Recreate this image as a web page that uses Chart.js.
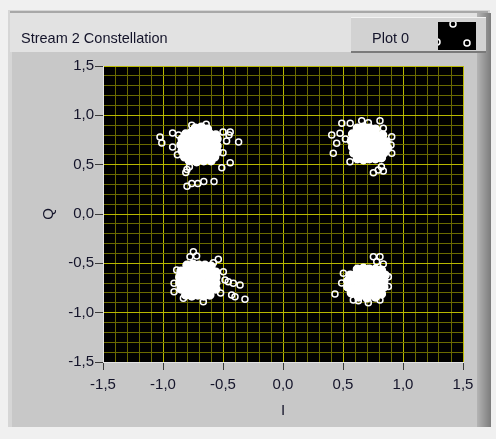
<!DOCTYPE html>
<html>
<head>
<meta charset="utf-8">
<script src="https://cdn.jsdelivr.net/npm/chart.js@4/dist/chart.umd.min.js"></script>
<style>
  html, body { margin: 0; padding: 0; background: #f0f0f0; }
  #wrap { width: 496px; height: 439px; }
</style>
</head>
<body>
<div id="wrap"><canvas id="constellation" width="496" height="439"></canvas></div>
<script>
// Stream 2 constellation, I/Q samples
const chartTitle = 'Stream 2 Constellation';
const plotName = 'Plot 0';
const axisTicks = [-1.5, -1.0, -0.5, 0.0, 0.5, 1.0, 1.5];

// dense centre of each symbol cloud (circles overlap into solid white)
const coreTopLeft = [
    [-0.73, 0.87], [-0.68, 0.88], [-0.63, 0.86],
    [-0.81, 0.81], [-0.76, 0.83], [-0.71, 0.82], [-0.66, 0.82], [-0.61, 0.81], [-0.56, 0.80],
    [-0.84, 0.76], [-0.79, 0.77], [-0.74, 0.76], [-0.69, 0.77], [-0.64, 0.76], [-0.59, 0.75], [-0.55, 0.76],
    [-0.85, 0.70], [-0.80, 0.71], [-0.75, 0.70], [-0.70, 0.71], [-0.65, 0.70], [-0.60, 0.70], [-0.55, 0.69],
    [-0.84, 0.64], [-0.79, 0.65], [-0.74, 0.64], [-0.69, 0.64], [-0.64, 0.65], [-0.59, 0.64], [-0.55, 0.63],
    [-0.82, 0.58], [-0.77, 0.59], [-0.72, 0.58], [-0.67, 0.58], [-0.62, 0.59], [-0.57, 0.58],
    [-0.78, 0.54], [-0.72, 0.53], [-0.66, 0.54], [-0.60, 0.54]
];
const coreTopRight = [
    [0.62, 0.87], [0.67, 0.88], [0.72, 0.87], [0.77, 0.86],
    [0.58, 0.81], [0.63, 0.82], [0.68, 0.80], [0.73, 0.81], [0.78, 0.80], [0.83, 0.80],
    [0.57, 0.74], [0.62, 0.75], [0.67, 0.74], [0.72, 0.74], [0.77, 0.75], [0.82, 0.74], [0.86, 0.73],
    [0.58, 0.68], [0.63, 0.69], [0.68, 0.68], [0.73, 0.68], [0.78, 0.69], [0.83, 0.68], [0.87, 0.67],
    [0.59, 0.62], [0.64, 0.63], [0.69, 0.62], [0.74, 0.62], [0.79, 0.63], [0.84, 0.62],
    [0.62, 0.56], [0.67, 0.55], [0.72, 0.56], [0.77, 0.56], [0.82, 0.57]
];
const coreBottomLeft = [
    [-0.80, -0.52], [-0.75, -0.51], [-0.70, -0.52], [-0.65, -0.52], [-0.60, -0.53],
    [-0.85, -0.58], [-0.80, -0.57], [-0.75, -0.58], [-0.70, -0.57], [-0.65, -0.58], [-0.60, -0.58], [-0.56, -0.59],
    [-0.86, -0.64], [-0.81, -0.63], [-0.76, -0.64], [-0.71, -0.64], [-0.66, -0.63], [-0.61, -0.64], [-0.56, -0.64],
    [-0.86, -0.70], [-0.81, -0.71], [-0.76, -0.70], [-0.71, -0.70], [-0.66, -0.71], [-0.61, -0.70], [-0.56, -0.70],
    [-0.85, -0.76], [-0.80, -0.76], [-0.75, -0.77], [-0.70, -0.76], [-0.65, -0.76], [-0.60, -0.77], [-0.56, -0.76],
    [-0.81, -0.82], [-0.76, -0.83], [-0.71, -0.82], [-0.66, -0.83], [-0.61, -0.82]
];
const coreBottomRight = [
    [0.62, -0.56], [0.67, -0.55], [0.72, -0.56], [0.77, -0.56], [0.82, -0.57],
    [0.56, -0.62], [0.61, -0.61], [0.66, -0.62], [0.71, -0.62], [0.76, -0.61], [0.81, -0.62], [0.85, -0.62],
    [0.54, -0.68], [0.59, -0.67], [0.64, -0.68], [0.69, -0.68], [0.74, -0.67], [0.79, -0.68], [0.84, -0.68],
    [0.54, -0.74], [0.59, -0.75], [0.64, -0.74], [0.69, -0.74], [0.74, -0.75], [0.79, -0.74], [0.84, -0.74],
    [0.57, -0.80], [0.62, -0.80], [0.67, -0.81], [0.72, -0.80], [0.77, -0.80], [0.82, -0.81],
    [0.63, -0.84], [0.70, -0.85], [0.77, -0.84]
];

// scattered samples around the clouds (single hollow circles)
const edgeTopLeft = [
    [-1.025, 0.78], [-1.01, 0.72], [-0.92, 0.82], [-0.92, 0.68], [-0.87, 0.80], [-0.88, 0.60],
    [-0.76, 0.90], [-0.64, 0.91], [-0.50, 0.83], [-0.45, 0.80], [-0.44, 0.83], [-0.47, 0.74],
    [-0.37, 0.73], [-0.51, 0.47], [-0.44, 0.52], [-0.50, 0.62],
    [-0.80, 0.28], [-0.76, 0.31], [-0.71, 0.31], [-0.66, 0.33], [-0.575, 0.33],
    [-0.81, 0.42], [-0.80, 0.45], [-0.78, 0.48]
];
const edgeTopRight = [
    [0.49, 0.92], [0.56, 0.92], [0.656, 0.946], [0.711, 0.926], [0.808, 0.946], [0.836, 0.87],
    [0.406, 0.80], [0.447, 0.717], [0.419, 0.615], [0.475, 0.818], [0.52, 0.76],
    [0.906, 0.784], [0.90, 0.70], [0.906, 0.615],
    [0.753, 0.419], [0.794, 0.446], [0.836, 0.436], [0.82, 0.48], [0.558, 0.53]
];
const edgeBottomLeft = [
    [-0.747, -0.382], [-0.775, -0.433], [-0.72, -0.426], [-0.539, -0.459], [-0.58, -0.493],
    [-0.497, -0.585], [-0.483, -0.669], [-0.456, -0.686], [-0.414, -0.702], [-0.358, -0.72],
    [-0.428, -0.821], [-0.40, -0.838], [-0.317, -0.865], [-0.52, -0.80],
    [-0.908, -0.702], [-0.908, -0.787], [-0.886, -0.567], [-0.664, -0.889], [-0.83, -0.854]
];
const edgeBottomRight = [
    [0.753, -0.433], [0.808, -0.433], [0.781, -0.483], [0.836, -0.507],
    [0.433, -0.811], [0.586, -0.872], [0.628, -0.88], [0.711, -0.899], [0.808, -0.872],
    [0.878, -0.635], [0.878, -0.736], [0.503, -0.60], [0.489, -0.70]
];

const toXY = pairs => pairs.map(p => ({ x: p[0], y: p[1] }));
const coreSamples = toXY([].concat(coreTopLeft, coreTopRight, coreBottomLeft, coreBottomRight));
const edgeSamples = toXY([].concat(edgeTopLeft, edgeTopRight, edgeBottomLeft, edgeBottomRight));

const textColor = '#14142a';
const uiFont = '"Liberation Sans", Arial, sans-serif';

function isMajor(v) {
    return Math.abs(v * 2 - Math.round(v * 2)) < 1e-6;
}
function fmtTick(v) {
    if (!isMajor(v)) return '';
    if (Math.abs(v) < 1e-9) return '0,0';
    return v.toFixed(1).replace('.', ',');
}

// LabVIEW style panel behind the graph
const panelPlugin = {
    id: 'panel',
    beforeDraw(chart) {
        const c = chart.ctx;
        const area = chart.chartArea;
        c.save();
        c.fillStyle = '#f0f0f0';
        c.fillRect(0, 0, chart.width, chart.height);
        // outer frame
        c.fillStyle = '#d6d6d6';
        c.fillRect(8, 10, 482, 417);
        c.fillStyle = '#a8a8a8';
        c.fillRect(10, 11, 478, 2);
        // header strip
        c.fillStyle = '#e2e2e2';
        c.fillRect(10, 13, 468, 39);
        // body
        c.fillStyle = '#c8c8c8';
        c.fillRect(12, 52, 466, 375);
        // right shadow
        const g = c.createLinearGradient(477, 0, 491, 0);
        g.addColorStop(0, '#b4b4b4');
        g.addColorStop(1, '#7c7c7c');
        c.fillStyle = g;
        c.fillRect(477, 13, 14, 414);
        // legend box
        c.fillStyle = '#d2d2d2';
        c.fillRect(351, 17, 135, 35);
        c.fillStyle = '#f2f2f2';
        c.fillRect(351, 17, 135, 1);
        c.fillStyle = '#7a7a7a';
        c.fillRect(351, 51, 135, 2);
        c.fillStyle = '#000000';
        c.fillRect(438, 22, 38, 28);
        // marker preview in the legend swatch
        c.save();
        c.beginPath();
        c.rect(438, 22, 38, 28);
        c.clip();
        c.strokeStyle = '#ffffff';
        c.lineWidth = 1.5;
        [[453, 24], [437, 42], [467, 43]].forEach(p => {
            c.beginPath();
            c.arc(p[0], p[1], 3, 0, Math.PI * 2);
            c.stroke();
        });
        c.restore();
        // texts
        c.fillStyle = textColor;
        c.font = '14.5px ' + uiFont;
        c.textBaseline = 'alphabetic';
        c.textAlign = 'left';
        c.fillText(chartTitle, 21, 43);
        c.fillText(plotName, 372, 43);
        // plot background
        c.fillStyle = '#000000';
        c.fillRect(area.left, area.top, area.right - area.left, area.bottom - area.top);
        c.restore();
    }
};

const gridOpts = {
    color: ctx => isMajor(ctx.tick.value) ? '#b8b800' : '#6a6a00',
    tickColor: ctx => isMajor(ctx.tick.value) ? '#3a3a3a' : 'rgba(0,0,0,0)',
    tickLength: 8,
    lineWidth: 1
};

new Chart(document.getElementById('constellation'), {
    type: 'scatter',
    data: {
        datasets: [{
            label: plotName,
            data: edgeSamples,
            pointStyle: 'circle',
            pointRadius: 3,
            pointBorderWidth: 1.5,
            pointBorderColor: '#ffffff',
            pointBackgroundColor: 'rgba(0,0,0,0)'
        }, {
            label: plotName,
            data: coreSamples,
            pointStyle: 'circle',
            pointRadius: 4,
            pointBorderWidth: 1.5,
            pointBorderColor: '#ffffff',
            pointBackgroundColor: '#ffffff'
        }]
    },
    options: {
        responsive: false,
        animation: false,
        events: [],
        layout: { padding: { top: 66, left: 0, right: 33, bottom: 0 } },
        plugins: {
            legend: { display: false },
            title: { display: false },
            tooltip: { enabled: false }
        },
        scales: {
            x: {
                type: 'linear',
                min: axisTicks[0],
                max: axisTicks[axisTicks.length - 1],
                afterFit: scale => { scale.height = 77; },
                border: { color: '#e4e4e4', width: 1 },
                grid: gridOpts,
                ticks: {
                    stepSize: 0.1,
                    maxTicksLimit: 40,
                    autoSkip: false,
                    maxRotation: 0,
                    padding: 6,
                    color: textColor,
                    font: { family: uiFont, size: 15 },
                    callback: v => fmtTick(v)
                },
                title: {
                    display: true,
                    text: 'I',
                    color: textColor,
                    font: { family: uiFont, size: 15 },
                    padding: { top: 0, bottom: 19 }
                }
            },
            y: {
                type: 'linear',
                min: axisTicks[0],
                max: axisTicks[axisTicks.length - 1],
                afterFit: scale => { scale.width = 103; },
                border: { color: '#e4e4e4', width: 1 },
                grid: gridOpts,
                ticks: {
                    stepSize: 0.1,
                    maxTicksLimit: 40,
                    autoSkip: false,
                    padding: 1,
                    color: textColor,
                    font: { family: uiFont, size: 15 },
                    callback: v => fmtTick(v)
                },
                title: {
                    display: true,
                    text: 'Q',
                    color: textColor,
                    font: { family: uiFont, size: 15 },
                    padding: { top: 40, bottom: 0 }
                }
            }
        }
    },
    plugins: [panelPlugin]
});
</script>
</body>
</html>
